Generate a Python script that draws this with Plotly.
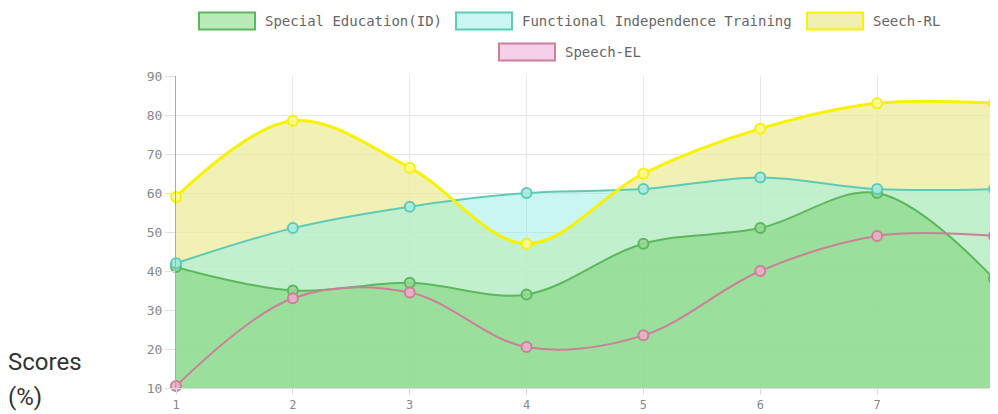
import plotly.graph_objects as go

x_vals = [1, 2, 3, 4, 5, 6, 7, 8]
special_ed = [41, 35, 37, 34, 47, 51, 60, 38]
functional = [42, 51, 56.5, 60, 61, 64, 61, 61]
speech_rl = [59, 78.5, 66.5, 47, 65, 76.5, 83, 83]
speech_el = [10.5, 33, 34.5, 20.5, 23.5, 40, 49, 49]
y_ticks = [10, 20, 30, 40, 50, 60, 70, 80, 90]

names = ["Special Education(ID)", "Functional Independence Training", "Seech-RL", "Speech-EL"]
series = [special_ed, functional, speech_rl, speech_el]
line_colors = ["#5cb85c", "#5ecbb5", "#f7f300", "#cc7f98"]
legend_fill = ["rgba(186,233,186,1)", "rgba(201,246,241,1)", "rgba(240,239,179,1)", "rgba(245,208,232,1)"]
area_fill = ["rgba(129,211,123,0.6)", "rgba(153,238,229,0.53)", "rgba(235,234,150,0.7)", None]
marker_fill = ["rgba(150,215,150,0.9)", "rgba(170,235,225,0.9)", "rgba(250,250,150,0.9)", "rgba(235,175,200,0.9)"]
line_widths = [2, 2, 3, 2]

# figure geometry (pixels); page body adds an 8px offset in the screenshot
W, H = 998, 414
L, R, T, B = 168, 12, 68, 34
PW, PH = W - L - R, H - T - B
OFF = 8


def px_x(px):
    return (px - OFF - L) / PW


def px_y(py):
    return (H - B - (py - OFF)) / PH


fig = go.Figure()

# fills: drawn bottom-up (yellow, teal, green)
for i in [2, 1, 0]:
    fig.add_trace(go.Scatter(x=x_vals, y=series[i], mode="none", fill="tozeroy",
                             fillcolor=area_fill[i], line=dict(shape="spline", smoothing=1),
                             showlegend=False, hoverinfo="skip"))

# lines in series order
for i in range(4):
    fig.add_trace(go.Scatter(x=x_vals, y=series[i], mode="lines+markers",
                             line=dict(color=line_colors[i], width=line_widths[i], shape="spline", smoothing=1),
                             marker=dict(symbol="circle", size=10, color=marker_fill[i],
                                         line=dict(color=line_colors[i], width=2)),
                             cliponaxis=False, showlegend=False, name=names[i]))

# legend drawn as swatches + text (left px of swatch, centre py of row, screenshot pixels)
legend_pos = [(199, 21), (456, 21), (807, 21), (499, 52)]
shapes, annotations = [], []
for i, (lx, cy) in enumerate(legend_pos):
    shapes.append(dict(type="rect", xref="paper", yref="paper",
                       x0=px_x(lx), x1=px_x(lx + 56), y0=px_y(cy - 8.5), y1=px_y(cy + 8.5),
                       fillcolor=legend_fill[i], line=dict(color=line_colors[i], width=2), layer="above"))
    annotations.append(dict(text=names[i], xref="paper", yref="paper", x=px_x(lx + 64), y=px_y(cy),
                            xanchor="left", yanchor="middle", showarrow=False,
                            font=dict(family="DejaVu Sans Mono", size=14, color="#666")))

annotations += [
    dict(text="Scores", xref="paper", yref="paper", x=px_x(6), y=px_y(362),
         xanchor="left", yanchor="middle", showarrow=False,
         font=dict(family="Roboto", size=24, color="#333")),
    dict(text="(%)", xref="paper", yref="paper", x=px_x(6), y=px_y(397),
         xanchor="left", yanchor="middle", showarrow=False,
         font=dict(family="Roboto", size=24, color="#333")),
]

fig.update_layout(
    width=W, height=H,
    margin=dict(l=L, r=R, t=T, b=B, autoexpand=False),
    paper_bgcolor="white", plot_bgcolor="white",
    showlegend=False,
    xaxis=dict(range=[1, 8], tickvals=x_vals, showgrid=True, gridcolor="#e6e6e6",
               ticks="outside", ticklen=6, tickcolor="#ddd", showline=True, linecolor="#ddd",
               zeroline=False, ticklabeloverflow="allow",
               tickfont=dict(family="DejaVu Sans Mono", size=12, color="#888")),
    yaxis=dict(range=[10, 90], tickvals=y_ticks, showgrid=True, gridcolor="#e6e6e6",
               ticks="outside", ticklen=10, tickcolor="#e0e0e0", showline=True, linecolor="#aaa",
               zeroline=False, tickfont=dict(family="DejaVu Sans Mono", size=13, color="#888")),
    shapes=shapes,
    annotations=annotations,
)

fig.write_html("out.html")
